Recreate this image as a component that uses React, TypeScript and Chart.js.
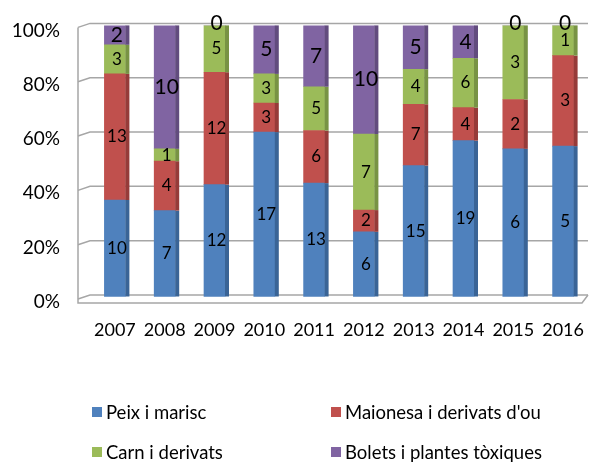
import React, { useEffect, useRef } from "react";
import { Chart, registerables } from "chart.js";

Chart.register(...registerables);

const years = ["2007", "2008", "2009", "2010", "2011", "2012", "2013", "2014", "2015", "2016"];
const peix = [10, 7, 12, 17, 13, 6, 15, 19, 6, 5];
const maionesa = [13, 4, 12, 3, 6, 2, 7, 4, 2, 3];
const carn = [3, 1, 5, 3, 5, 7, 4, 6, 3, 1];
const bolets = [2, 10, 0, 5, 7, 10, 5, 4, 0, 0];
const seriesNames = ["Peix i marisc", "Maionesa i derivats d'ou", "Carn i derivats", "Bolets i plantes tòxiques"];
const colors = ["#4F81BD", "#C0504D", "#9BBB59", "#8064A2"];
const sideColors = ["#3A6496", "#963B39", "#789344", "#624C7E"];
const yTicks = [0, 20, 40, 60, 80, 100];

const FONT = "Lato, 'Liberation Sans', sans-serif";

export default function App() {
  const ref = useRef<HTMLCanvasElement | null>(null);
  useEffect(() => {
    const raw = [peix, maionesa, carn, bolets];
    const totals = years.map((_, i) => raw.reduce((s, a) => s + a[i], 0));
    const pct = raw.map((a) => a.map((v, i) => (v / totals[i]) * 100));

    const grid3d = {
      id: "grid3d",
      beforeDatasetsDraw(chart: any) {
        const { ctx, chartArea } = chart;
        const ys = chart.scales.y;
        const dx = 12, dy = 4;
        ctx.save();
        ctx.strokeStyle = "#A6A6A6";
        ctx.lineWidth = 1.5;
        yTicks.forEach((t) => {
          const y = ys.getPixelForValue(t) - 2;
          ctx.beginPath();
          ctx.moveTo(chartArea.left - dx, y + dy);
          ctx.lineTo(chartArea.left, y);
          ctx.lineTo(chartArea.right, y);
          ctx.stroke();
        });
        ctx.beginPath();
        ctx.moveTo(chartArea.left - dx, ys.getPixelForValue(100) - 2 + dy);
        ctx.lineTo(chartArea.left - dx, ys.getPixelForValue(0) + 2 + dy);
        ctx.lineTo(chartArea.right - 6, ys.getPixelForValue(0) + 2 + dy);
        ctx.lineTo(chartArea.right, ys.getPixelForValue(0) - 2);
        ctx.stroke();
        ctx.restore();
      },
      afterDatasetsDraw(chart: any) {
        const { ctx } = chart;
        ctx.save();
        chart.data.datasets.forEach((ds: any, di: number) => {
          const meta = chart.getDatasetMeta(di);
          meta.data.forEach((el: any, i: number) => {
            const right = el.x + el.width / 2;
            const top = Math.min(el.y, el.base);
            const h = Math.abs(el.base - el.y);
            if (h > 0) {
              ctx.fillStyle = sideColors[di];
              ctx.fillRect(right, top, 4, h);
            }
            const v = raw[di][i];
            ctx.fillStyle = "#000";
            const size = di === 3 ? 21 : 17;
            ctx.font = `${size}px ${FONT}`;
            ctx.textAlign = "center";
            ctx.textBaseline = "middle";
            let cy = (el.y + el.base) / 2;
            if (v === 0) cy = el.y - 2;
            ctx.fillText(String(v), el.x + 2, cy);
          });
        });
        ctx.restore();
      },
    };

    const hiddenGrid = { display: true, drawOnChartArea: false, drawTicks: true, color: "rgba(0,0,0,0)" };

    const chart = new Chart(ref.current!, {
      type: "bar",
      data: {
        labels: years,
        datasets: pct.map((d, i) => ({
          label: seriesNames[i],
          data: d,
          backgroundColor: colors[i],
          borderWidth: 0,
          barThickness: 21,
        })),
      },
      options: {
        animation: false,
        responsive: false,
        maintainAspectRatio: false,
        layout: { padding: { top: 12, right: 1, bottom: 0, left: 0 } },
        plugins: { legend: { display: false }, tooltip: { enabled: false } },
        scales: {
          x: {
            stacked: true,
            grid: { ...hiddenGrid, tickLength: 22 },
            border: { display: false },
            ticks: { color: "#000", font: { family: FONT, size: 18 }, padding: 0, maxRotation: 0 },
            afterFit: (s: any) => { s.height = 169; },
          },
          y: {
            stacked: true,
            min: 0,
            max: 100,
            afterBuildTicks: (s: any) => { s.ticks = yTicks.map((v) => ({ value: v })); },
            grid: { ...hiddenGrid, tickLength: 16 },
            border: { display: false },
            ticks: { color: "#000", font: { family: FONT, size: 19 }, padding: 14, labelOffset: 5, callback: (v: any) => v + "%" },
            afterFit: (s: any) => { s.width = 90; },
          },
        },
      },
      plugins: [grid3d],
    });
    return () => chart.destroy();
  }, []);

  const legendPos = [
    { x: 92, y: 412 },
    { x: 331, y: 412 },
    { x: 92, y: 452 },
    { x: 331, y: 452 },
  ];

  return (
    <div style={{ position: "absolute", left: 0, top: 0, width: 589, height: 466, background: "#fff" }}>
      <canvas ref={ref} width={589} height={466} style={{ position: "absolute", left: 0, top: 0 }} />
      {seriesNames.map((n, i) => (
        <div
          key={n}
          style={{
            position: "absolute",
            left: legendPos[i].x,
            top: legendPos[i].y - 12,
            height: 24,
            display: "flex",
            alignItems: "center",
            fontFamily: FONT,
            fontSize: 18.5,
            color: "#000",
            whiteSpace: "nowrap",
          }}
        >
          <span style={{ display: "inline-block", width: 10, height: 10, background: colors[i], marginRight: 4 }} />
          {n}
        </div>
      ))}
    </div>
  );
}
